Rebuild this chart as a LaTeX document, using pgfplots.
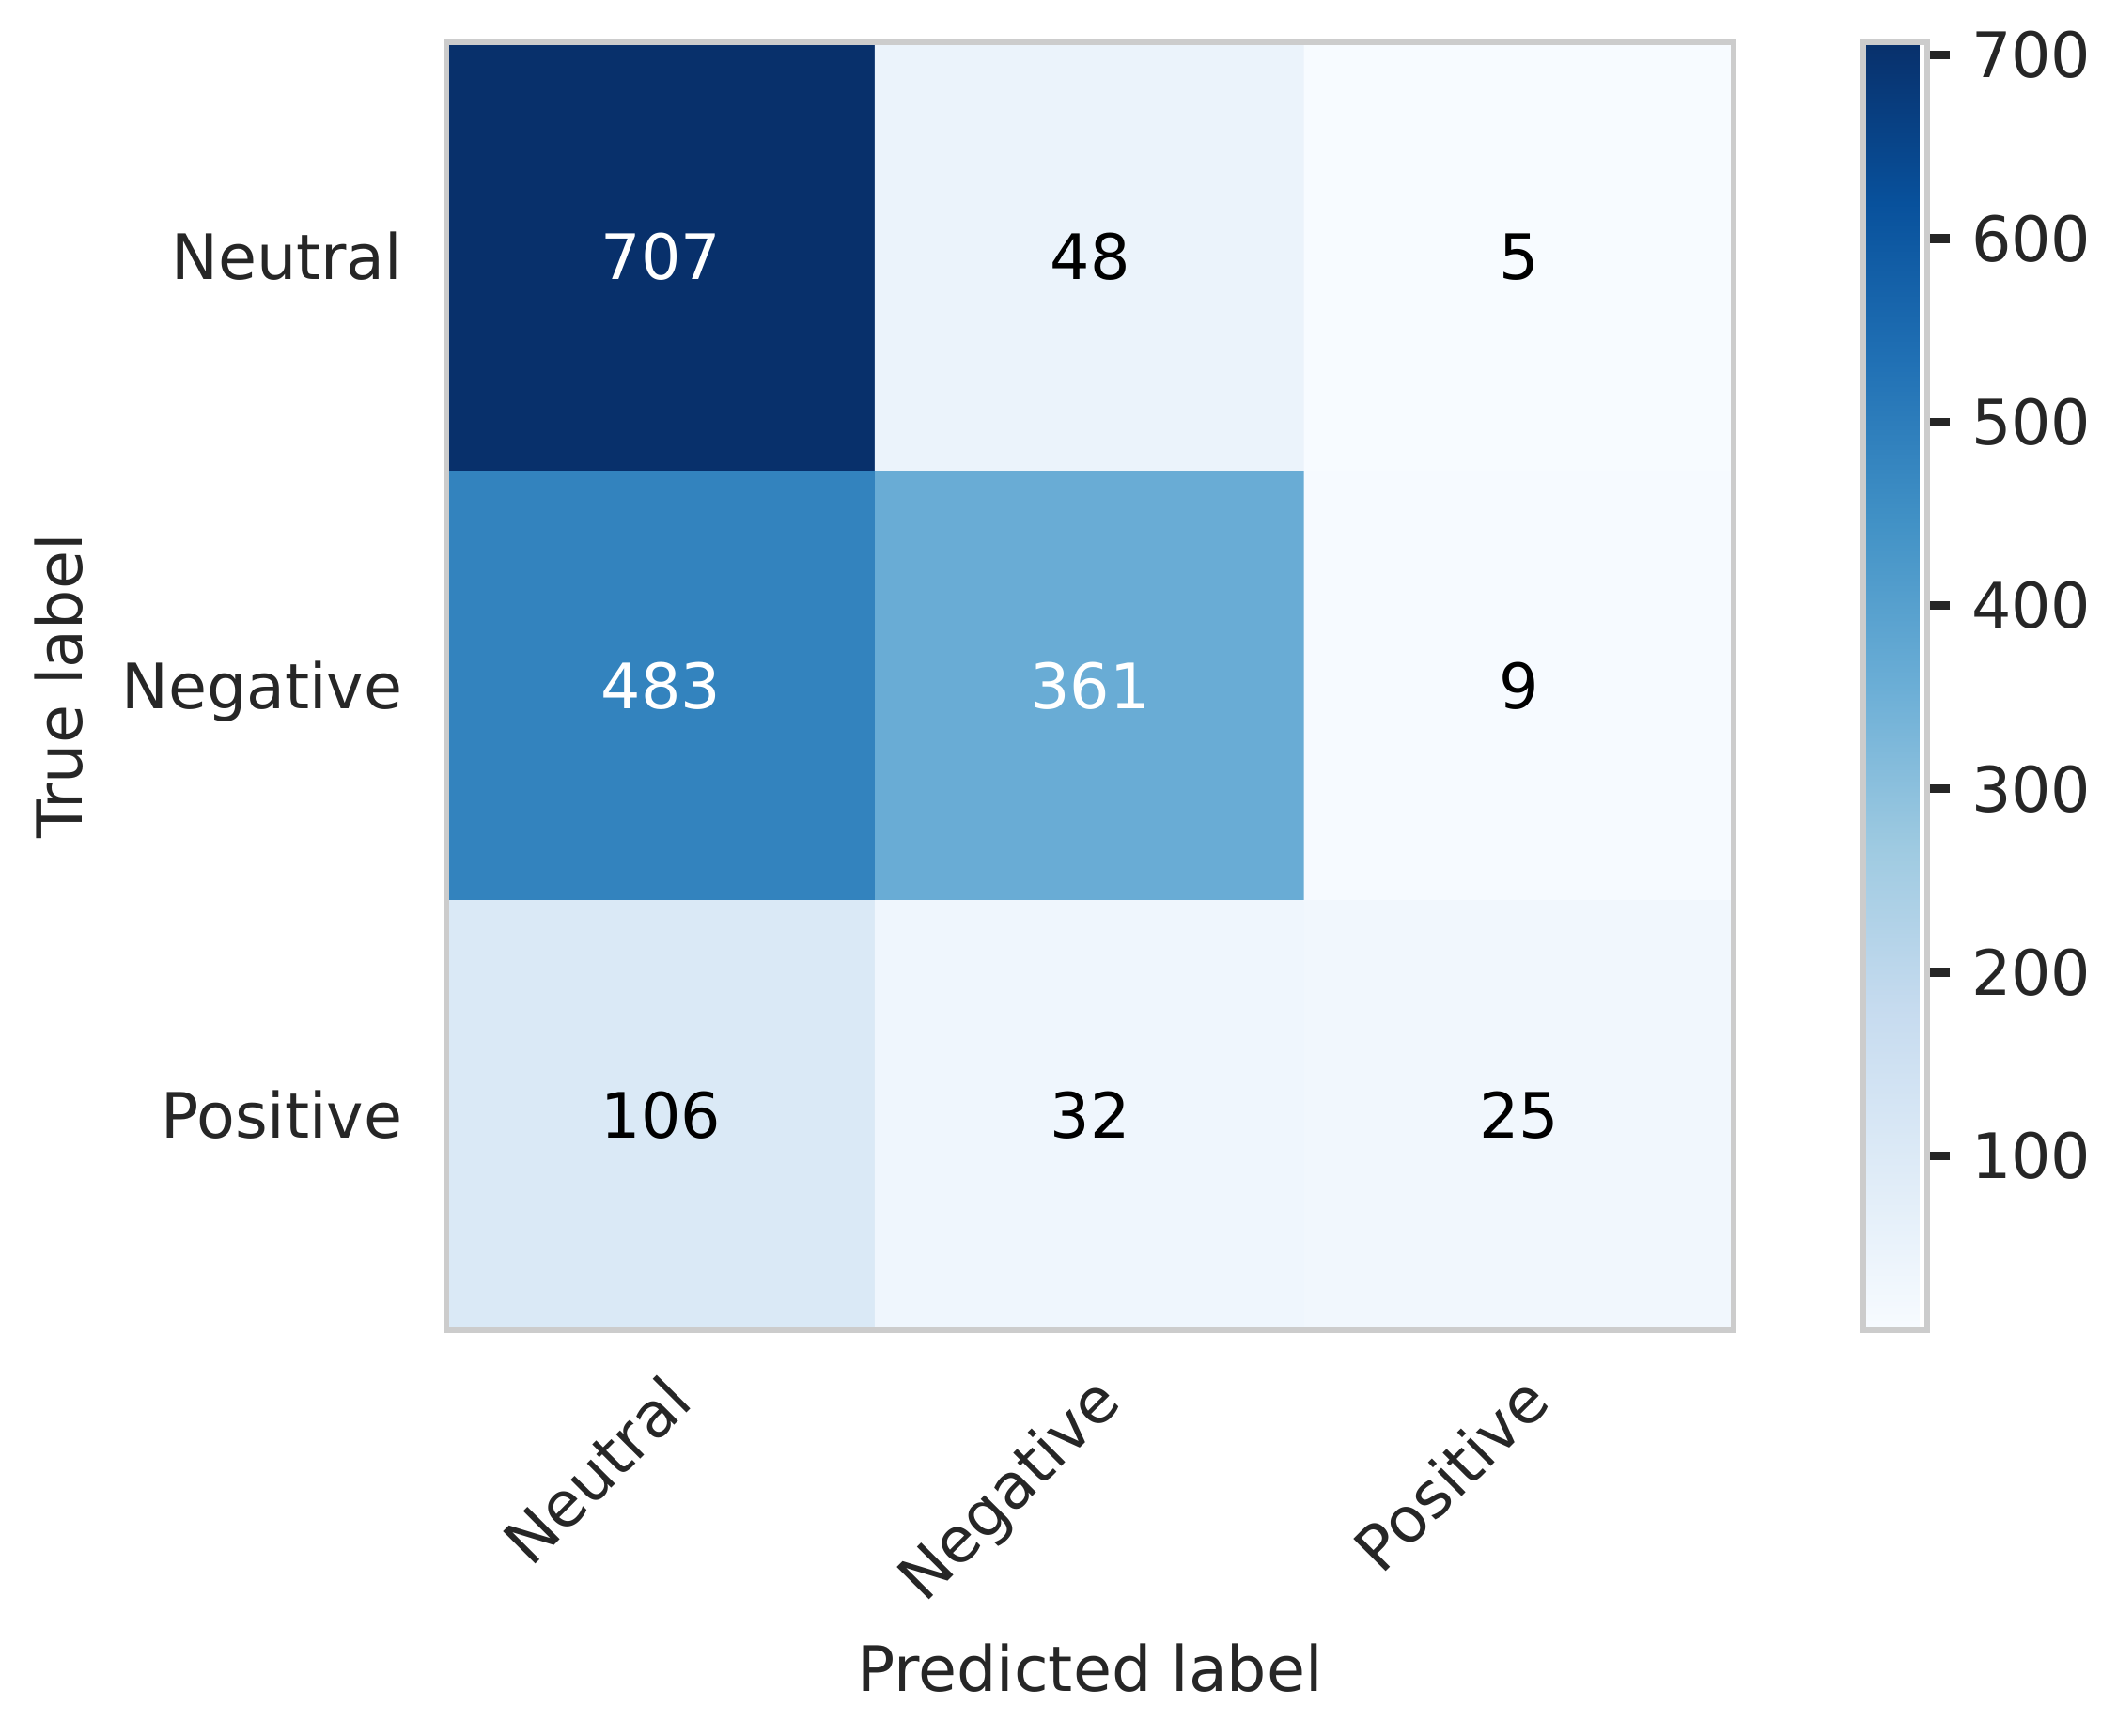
\documentclass[border=0pt]{standalone}
\usepackage{fontspec}
\setmainfont{DejaVu Sans}
\usepackage{pgfplots}
\usepackage{pgfplotstable}
\pgfplotsset{compat=1.18}
\definecolor{framegray}{HTML}{CCCCCC}
\definecolor{textgray}{HTML}{262626}
\pgfplotsset{
  /pgf/number format/assume math mode=true,
  colormap={mplblues}{rgb255=(247,251,255) rgb255=(222,235,247) rgb255=(198,219,239)
    rgb255=(158,202,225) rgb255=(107,174,214) rgb255=(66,146,198) rgb255=(33,113,181)
    rgb255=(8,81,156) rgb255=(8,48,107)},
}
\newcommand{\fs}{\fontsize{16pt}{19pt}\selectfont}

% confusion matrix, rows = true label, cols = predicted label
\pgfplotstableread{
x y c
0 0 707
1 0 48
2 0 5
0 1 483
1 1 361
2 1 9
0 2 106
1 2 32
2 2 25
}\cm
% cell labels above half of max are white
\pgfplotstableread{
x y c
0 0 707
0 1 483
1 1 361
}\cmwhite
\pgfplotstableread{
x y c
1 0 48
2 0 5
2 1 9
0 2 106
1 2 32
2 2 25
}\cmblack

\begin{document}
\begin{tikzpicture}[font=\fs]
\useasboundingbox (0,0) rectangle (540.7pt,443.3pt);
\begin{axis}[
  at={(114pt,103.5pt)}, anchor=south west,
  scale only axis, width=328.8pt, height=329pt,
  xmin=-0.5, xmax=2.5, ymin=-0.5, ymax=2.5,
  y dir=reverse,
  xtick={0,1,2}, xticklabels={Neutral,Negative,Positive},
  ytick={0,1,2}, yticklabels={Neutral,Negative,Positive},
  major tick length=0pt,
  tick style={draw=none},
  axis line style={draw=framegray, line width=1.44pt},
  axis on top,
  colormap name=mplblues,
  point meta min=5, point meta max=707,
  xticklabel style={font=\fs, text=textgray, inner sep=0pt, rotate=45, anchor=north east},
  xticklabel shift=10.3pt,
  yticklabel style={font=\fs, text=textgray, inner sep=0pt, anchor=base east, yshift=-5.8pt},
  yticklabel shift=11pt,
  xlabel={Predicted label}, ylabel={True label},
  every axis x label/.style={at={(axis description cs:0.5,0)}, anchor=base, yshift=-92.2pt, font=\fs, text=textgray},
  every axis y label/.style={at={(axis description cs:0,0.5)}, xshift=-93.1pt, rotate=90, anchor=base, font=\fs, text=textgray},
  colorbar,
  colorbar style={
    at={(parent axis.north east)}, anchor=north west, xshift=24.6pt,
    width=16.3pt,
    ytick={100,200,...,700},
    axis line style={draw=framegray, line width=1.44pt},
    ytick pos=right, yticklabel pos=right,
    tick align=outside,
    major tick length=5.8pt,
    tick style={draw=textgray, line width=2.2pt},
    yticklabel style={font=\fs, text=textgray, inner sep=0pt},
    yticklabel shift=5.3pt,
  },
]
\addplot[matrix plot*, mesh/cols=3, point meta=explicit] table[meta=c] {\cm};
\addplot[only marks, mark=none, point meta=explicit symbolic,
  nodes near coords, nodes near coords align=center,
  every node near coord/.append style={font=\fs, text=white, inner sep=0pt}]
  table[meta=c] {\cmwhite};
\addplot[only marks, mark=none, point meta=explicit symbolic,
  nodes near coords, nodes near coords align=center,
  every node near coord/.append style={font=\fs, text=black, inner sep=0pt}]
  table[meta=c] {\cmblack};
\end{axis}
\end{tikzpicture}
\end{document}
